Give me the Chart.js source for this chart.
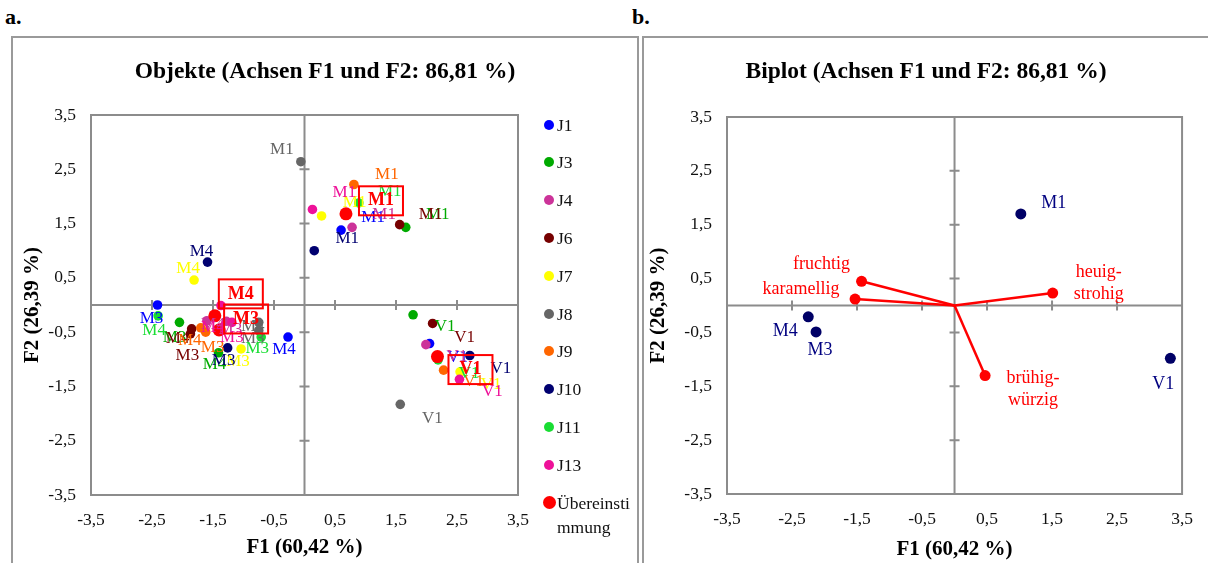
<!DOCTYPE html>
<html>
<head>
<meta charset="utf-8">
<script src="https://cdn.jsdelivr.net/npm/chart.js@4.4.0/dist/chart.umd.min.js"></script>
<style>
  body { margin: 0; width: 1208px; height: 563px; overflow: hidden; background: #fff; position: relative;
         font-family: 'Liberation Serif', 'Times New Roman', serif; }
  .frame { position: absolute; border: 2px solid #9a9a9a; box-sizing: border-box; }
  .tag { position: absolute; font-weight: bold; font-size: 22px; color: #000; }
  canvas { position: absolute; }
  .lg { position: absolute; font-size: 17.5px; line-height: 24px; color: #111; width: 80px; word-break: break-all; }
  .dot { position: absolute; border-radius: 50%; }
</style>
</head>
<body>
<div class="frame" style="left:11px;top:36px;width:628px;height:600px"></div>
<div class="frame" style="left:642px;top:36px;width:600px;height:600px"></div>
<div class="tag" style="left:5px;top:4px">a.</div>
<div class="tag" style="left:632px;top:4px">b.</div>
<canvas id="objekte" width="624" height="525" style="left:13px;top:38px"></canvas>
<canvas id="biplot" width="564" height="525" style="left:644px;top:38px"></canvas>
<div id="legend"></div>

<script>
const FONT = "'Liberation Serif', 'Times New Roman', serif";

// --- Daten -------------------------------------------------------------------
const samples = ['M1', 'M3', 'M4', 'V1'];
const judges  = ['J1', 'J3', 'J4', 'J6', 'J7', 'J8', 'J9', 'J10', 'J11', 'J13', 'Übereinstimmung'];

// je Prüfer: [F1, F2] für M1, M3, M4, V1
const j1  = [[0.60, 1.38], [-2.41,  0.00], [-0.27, -0.59], [2.05, -0.71]];
const j3  = [[1.66, 1.43], [-2.05, -0.32], [-1.41, -0.88], [1.78, -0.18]];
const j4  = [[0.78, 1.43], [-1.28, -0.30], [-1.60, -0.29], [1.99, -0.73]];
const j6  = [[1.56, 1.48], [-1.87, -0.53], [-1.85, -0.44], [2.10, -0.34]];
const j7  = [[0.28, 1.64], [-1.04, -0.81], [-1.81,  0.46], [2.55, -1.23]];
const j8  = [[-0.06, 2.64], [-0.75, -0.47], [-0.75, -0.32], [1.57, -1.83]];
const j9  = [[0.81, 2.22], [-1.62, -0.50], [-1.70, -0.42], [2.28, -1.20]];
const j10 = [[0.16, 1.00], [-1.26, -0.79], [-1.59,  0.79], [2.71, -0.93]];
const j11 = [[0.89, 1.88], [-0.71, -0.59], [-2.40, -0.20], [2.19, -1.01]];
const j13 = [[0.13, 1.76], [-1.19, -0.32], [-1.37, -0.01], [2.54, -1.37]];
const konsens = [[0.68, 1.68], [-1.40, -0.46], [-1.47, -0.20], [2.18, -0.95]];
const judgeScores = [j1, j3, j4, j6, j7, j8, j9, j10, j11, j13, konsens];

const tickValues = [-3.5, -2.5, -1.5, -0.5, 0.5, 1.5, 2.5, 3.5];

// Biplot
const biplotSamples = ['M1', 'M3', 'M4', 'V1'];
const biplotScores  = [[1.02, 1.70], [-2.13, -0.49], [-2.25, -0.21], [3.32, -0.98]];
const attributes    = ['fruchtig', 'karamellig', 'heuig-\nstrohig', 'brühig-\nwürzig'];
const loadings      = [[-1.43, 0.45], [-1.53, 0.12], [1.51, 0.23], [0.47, -1.30]];

// --- Stil ------------------------------------------------------------------
const colors = ['#0000FF', '#00AA00', '#CC3399', '#760000', '#FFFF00', '#666666',
                '#FF6600', '#000070', '#19DD33', '#EE1199', '#FF0000'];
// Versatz der Beschriftung zum Punkt (px), wie im Original verteilt
const labelOffsets = [
  [[32, -13], [-6, 14], [-4, 13], [28, 14]],
  [[32, -13], [-5, 15], [-4, 12], [32, 12]],
  [[32, -13], [4, 8],   [6, 4],   [31, 12]],
  [[31, -10], [-3, 22], [-14, 10], [32, 14]],
  [[33, -13], [-3, 13], [-6, -11], [31, 13]],
  [[-19, -12], [-6, 8], [-6, 4],  [32, 14]],
  [[33, -10], [7, 15],  [-11, 13], [30, 11]],
  [[33, -12], [-4, 13], [-6, -11], [31, 13]],
  [[31, -11], [-4, 12], [-4, 15], [31, 14]],
  [[32, -17], [0, 15],  [-8, 22], [33, 12]],
  [[35, -13], [27, -11], [26, -22], [33, 13]],
];
const biplotSampleOffsets = [[33, -11], [4, 18], [-23, 14], [-7, 26]];
const attributeOffsets    = [[-40, -17], [-54, -10], [46, -10], [48, 14]];

const fmtTick = v => v.toFixed(1).replace('.', ',');

// ─── Plugins ─────────────────────────────────────────────────────────────
const axisFrame = {
  id: 'axisFrame',
  beforeDatasetsDraw(chart) {
    const { ctx, chartArea: a, scales: { x, y } } = chart;
    const x0 = x.getPixelForValue(0), y0 = y.getPixelForValue(0);
    ctx.save();
    ctx.strokeStyle = '#8c8c8c';
    ctx.lineWidth = 2;
    ctx.strokeRect(a.left, a.top, a.width, a.height);
    ctx.beginPath();
    ctx.moveTo(x0, a.top);  ctx.lineTo(x0, a.bottom);
    ctx.moveTo(a.left, y0); ctx.lineTo(a.right, y0);
    tickValues.forEach(v => {
      if (Math.abs(v) >= 3.5) return;
      const px = x.getPixelForValue(v), py = y.getPixelForValue(v);
      ctx.moveTo(px, y0 - 5); ctx.lineTo(px, y0 + 5);
      ctx.moveTo(x0 - 5, py); ctx.lineTo(x0 + 5, py);
    });
    ctx.stroke();
    ctx.restore();
  }
};

const pointLabels = {
  id: 'pointLabels',
  afterDatasetsDraw(chart) {
    const ctx = chart.ctx;
    chart.data.datasets.forEach((ds, i) => {
      if (!ds.pointText) return;
      const meta = chart.getDatasetMeta(i);
      meta.data.forEach((el, k) => {
        const t = ds.pointText[k];
        if (!t) return;
        const [dx, dy] = ds.textOffsets[k];
        const lines = t.split('\n');
        const lh = ds.textSize * 1.2;
        const cx = el.x + dx, cy = el.y + dy;
        ctx.save();
        ctx.font = (ds.textBold ? 'bold ' : '') + ds.textSize + 'px ' + FONT;
        ctx.fillStyle = ds.textColor;
        ctx.textAlign = 'center';
        ctx.textBaseline = 'middle';
        lines.forEach((ln, j) => ctx.fillText(ln, cx, cy + (j - (lines.length - 1) / 2) * lh));
        if (ds.textBox) {
          ctx.strokeStyle = ds.textColor;
          ctx.lineWidth = 2;
          ctx.strokeRect(cx - 22, cy - 14.5, 44, 29);
        }
        ctx.restore();
      });
    });
  }
};

// ─── Achsen ──────────────────────────────────────────────────────────────
// rightSpace: leere rechte Achse, damit der Titel über die ganze Breite zentriert bleibt
function axes(yWidth, xHeight, rightSpace, xTitlePad, yTitlePad) {
  const tickFont  = { family: FONT, size: 17.5 };
  const titleFont = { family: FONT, size: 21, weight: 'bold' };
  const common = {
    type: 'linear', min: -3.5, max: 3.5,
    afterBuildTicks: s => { s.ticks = tickValues.map(v => ({ value: v })); },
    grid: { display: false, drawTicks: false },
    border: { display: false },
    ticks: { font: tickFont, color: '#111', padding: 15, maxRotation: 0, autoSkip: false, callback: v => fmtTick(v) },
  };
  return {
    x: { ...common, position: 'bottom', afterFit: s => { s.height = xHeight; },
         title: { display: true, text: 'F1 (60,42 %)', font: titleFont, color: '#000', padding: xTitlePad } },
    y: { ...common, position: 'left', afterFit: s => { s.width = yWidth; },
         title: { display: true, text: 'F2 (26,39 %)', font: titleFont, color: '#000', padding: yTitlePad } },
    yRight: { type: 'linear', position: 'right', display: true,
              grid: { display: false, drawTicks: false }, border: { display: false },
              ticks: { display: false }, afterFit: s => { s.width = rightSpace; } },
  };
}

function titleOpts(text, padBottom) {
  return { display: true, text, color: '#000', font: { family: FONT, size: 23.5, weight: 'bold' },
           padding: { top: 20, bottom: padBottom } };
}

// ─── a. Objekte ──────────────────────────────────────────────────────────
const objDatasets = judgeScores.map((pts, i) => {
  const isKonsens = i === judgeScores.length - 1;
  return {
    label: judges[i],
    data: pts.map(([x, y]) => ({ x, y })),
    backgroundColor: colors[i],
    borderColor: colors[i],
    pointRadius: isKonsens ? 6.5 : 4.8,
    borderWidth: 0,
    order: 20 - i,
    pointText: samples,
    textOffsets: labelOffsets[i],
    textColor: colors[i],
    textSize: isKonsens ? 18 : 17,
    textBold: isKonsens,
    textBox: isKonsens,
  };
});

new Chart(document.getElementById('objekte'), {
  type: 'scatter',
  data: { datasets: objDatasets },
  options: {
    responsive: false,
    animation: false,
    layout: { padding: 0 },
    plugins: {
      legend: { display: false },
      tooltip: { enabled: false },
      title: titleOpts('Objekte (Achsen F1 und F2: 86,81 %)', 28.8),
    },
    scales: axes(78, 68, 119, 2.4, 7.4),
  },
  plugins: [axisFrame, pointLabels],
});

// Legende (HTML, damit "Übereinstimmung" umbrechen kann)
const legendEl = document.getElementById('legend');
judges.forEach((name, i) => {
  const yc = 124.5 + i * 37.8;
  const r = i === judges.length - 1 ? 6.5 : 5;
  const dot = document.createElement('div');
  dot.className = 'dot';
  dot.style.cssText = `left:${549 - r}px;top:${yc - r}px;width:${2 * r}px;height:${2 * r}px;background:${colors[i]}`;
  const txt = document.createElement('div');
  txt.className = 'lg';
  txt.style.cssText = `left:557px;top:${yc - 12}px`;
  txt.textContent = name;
  legendEl.appendChild(dot);
  legendEl.appendChild(txt);
});

// ─── b. Biplot ───────────────────────────────────────────────────────────
const vectorDatasets = loadings.map(([x, y], i) => ({
  label: attributes[i],
  data: [{ x: 0, y: 0 }, { x, y }],
  showLine: true,
  borderColor: '#FF0000',
  backgroundColor: '#FF0000',
  borderWidth: 2.5,
  pointRadius: [0, 5.5],
  pointBorderWidth: 0,
  order: 2,
  pointText: [null, attributes[i]],
  textOffsets: [[0, 0], attributeOffsets[i]],
  textColor: '#FF0000',
  textSize: 18,
}));

new Chart(document.getElementById('biplot'), {
  type: 'scatter',
  data: {
    datasets: [
      {
        label: 'Objekte',
        data: biplotScores.map(([x, y]) => ({ x, y })),
        backgroundColor: '#000066',
        borderColor: '#000066',
        pointRadius: 5.5,
        borderWidth: 0,
        order: 1,
        pointText: biplotSamples,
        textOffsets: biplotSampleOffsets,
        textColor: '#000080',
        textSize: 18,
      },
      ...vectorDatasets,
    ],
  },
  options: {
    responsive: false,
    animation: false,
    layout: { padding: 0 },
    plugins: {
      legend: { display: false },
      tooltip: { enabled: false },
      title: titleOpts('Biplot (Achsen F1 und F2: 86,81 %)', 30.8),
    },
    scales: axes(83, 69, 25, 0.5, 2.4),
  },
  plugins: [axisFrame, pointLabels],
});
</script>
</body>
</html>
